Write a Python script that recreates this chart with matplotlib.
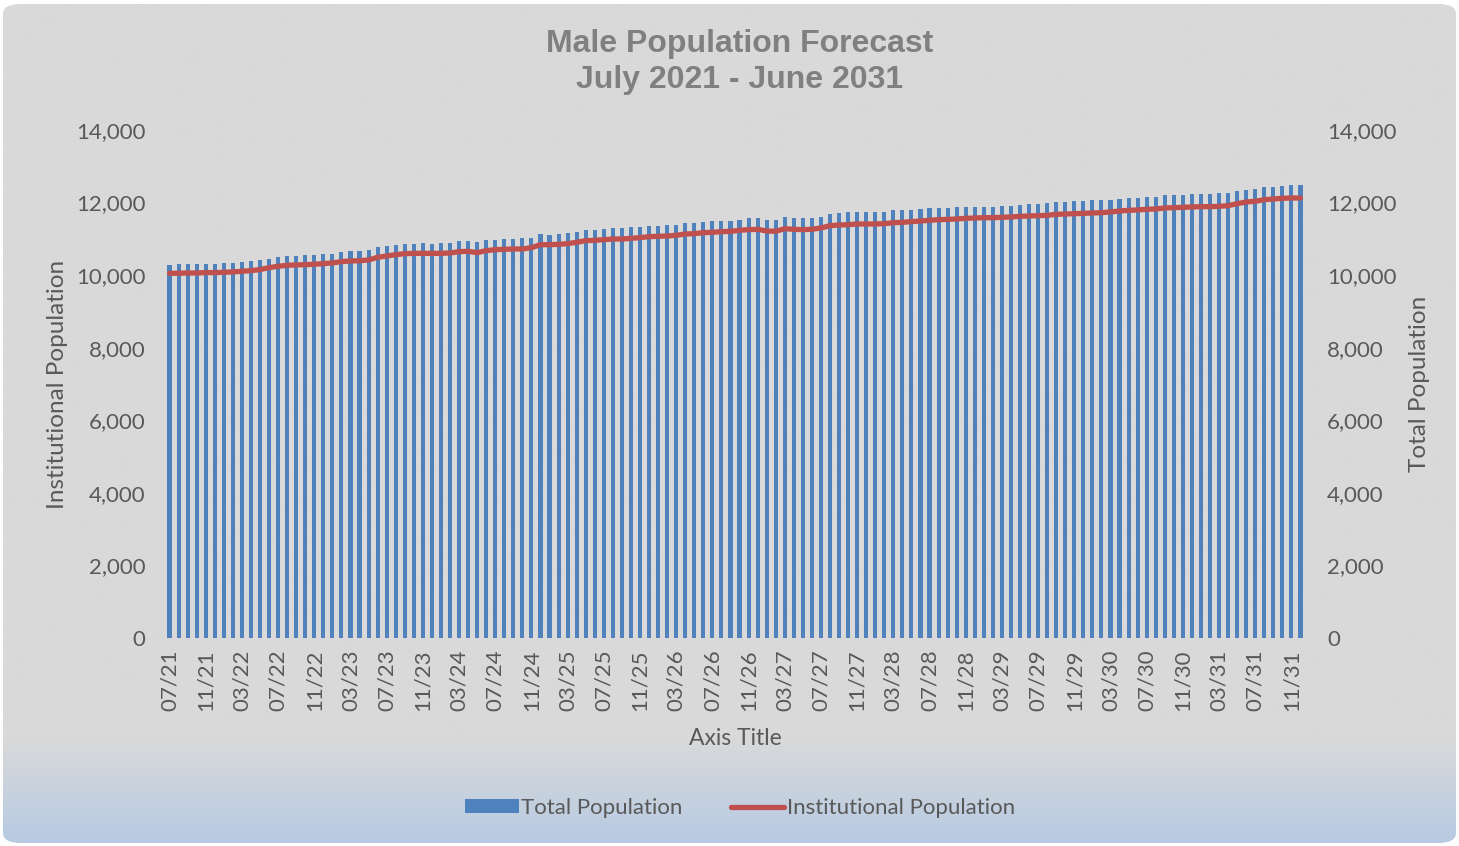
import numpy as np
import matplotlib
matplotlib.use("Agg")
import matplotlib.pyplot as plt
from matplotlib.patches import FancyBboxPatch, Patch
from matplotlib.lines import Line2D

# valeurs (mensuel, 07/21 -> 12/31)
total_pop = [10288, 10300, 10300, 10307, 10307, 10307, 10335, 10335, 10354, 10381, 10409,
             10454, 10492, 10519, 10528, 10546, 10555, 10574, 10583, 10629, 10657,
             10666, 10702, 10776, 10795, 10831, 10868, 10868, 10877, 10868, 10877, 10877,
             10933, 10941, 10905, 10969, 10978, 10996, 11005, 11015, 11015, 11125,
             11115, 11125, 11153, 11181, 11236, 11244, 11263, 11291, 11300, 11318, 11336,
             11355, 11363, 11374, 11391, 11429, 11429, 11473, 11484, 11501, 11501,
             11529, 11567, 11567, 11529, 11529, 11594, 11567, 11567, 11575, 11603, 11685,
             11713, 11732, 11749, 11741, 11741, 11749, 11787, 11796, 11805, 11823,
             11842, 11851, 11860, 11869, 11887, 11878, 11887, 11887, 11915, 11915, 11943,
             11970, 11970, 11980, 12016, 12025, 12035, 12053, 12062, 12062, 12071,
             12099, 12118, 12135, 12154, 12163, 12201, 12201, 12209, 12229, 12237, 12237,
             12256, 12273, 12328, 12356, 12366, 12421, 12421, 12457, 12476, 12476]

inst_pop = [10051, 10051, 10060, 10060, 10070, 10070, 10079, 10088, 10106, 10125, 10152,
            10207, 10244, 10272, 10281, 10290, 10299, 10318, 10336, 10373, 10391,
            10398, 10418, 10492, 10528, 10564, 10592, 10601, 10601, 10601, 10601, 10611,
            10647, 10656, 10620, 10675, 10702, 10711, 10721, 10721, 10757, 10840,
            10840, 10849, 10868, 10905, 10950, 10960, 10978, 10996, 10996, 11015, 11033,
            11061, 11070, 11079, 11098, 11134, 11143, 11171, 11180, 11198, 11207,
            11236, 11254, 11263, 11217, 11208, 11281, 11263, 11254, 11263, 11300, 11363,
            11382, 11391, 11410, 11410, 11410, 11419, 11446, 11455, 11474, 11492,
            11511, 11529, 11538, 11547, 11566, 11575, 11584, 11584, 11593, 11603, 11621,
            11630, 11639, 11648, 11676, 11685, 11694, 11703, 11713, 11722, 11741,
            11768, 11787, 11796, 11815, 11824, 11851, 11860, 11869, 11879, 11888, 11888,
            11897, 11915, 11970, 12016, 12035, 12080, 12099, 12117, 12127, 12127]

tick_labels = ['07/21', '11/21', '03/22', '07/22', '11/22', '03/23', '07/23', '11/23',
               '03/24', '07/24', '11/24', '03/25', '07/25', '11/25', '03/26', '07/26',
               '11/26', '03/27', '07/27', '11/27', '03/28', '07/28', '11/28', '03/29',
               '07/29', '11/29', '03/30', '07/30', '11/30', '03/31', '07/31', '11/31']

txt = '#595959'
bleu = '#4F81BD'
rouge = '#C0504D'
plt.rcParams['font.family'] = ['Lato', 'DejaVu Sans']

fig = plt.figure(figsize=(14.59, 8.46), dpi=100)
fig.patch.set_facecolor('white')

# fond gris avec degrade bleu en bas
bg = fig.add_axes([0, 0, 1, 1], zorder=-5)
bg.set_xlim(0, 1)
bg.set_ylim(0, 1)
bg.axis('off')
yy = np.linspace(0, 1, 400)
c_top = np.array([0xD9, 0xD9, 0xD9]) / 255
c_bot = np.array([0xB6, 0xCA, 0xE3]) / 255
t = np.clip((0.125 - yy) / 0.125, 0, 1)[:, None]
grad = c_top * (1 - t) + c_bot * t
img = bg.imshow(grad[:, None, :], extent=[0, 1, 0, 1], origin='lower', aspect='auto')
box = FancyBboxPatch((3 / 1459, 3 / 846), 1453 / 1459, 839 / 846,
                     boxstyle='round,pad=0,rounding_size=0.012',
                     transform=bg.transAxes, facecolor='none', edgecolor='none')
bg.add_patch(box)
img.set_clip_path(box)

ax = fig.add_axes([165 / 1459, 1 - 638 / 846, 1140 / 1459, 508 / 846])
ax.set_facecolor('none')
x = np.arange(len(total_pop))
ax.bar(x, total_pop, width=0.45, color=bleu, zorder=2)
ax.set_xlim(-0.5, len(total_pop) - 0.5)
ax.set_ylim(0, 14000)
ax.set_yticks(np.arange(0, 14001, 2000))
ax.set_yticklabels(['{:,}'.format(v) for v in range(0, 14001, 2000)])
ax.set_xticks(x[::4])
ax.set_xticklabels(tick_labels, rotation=90)
ax.tick_params(axis='both', length=0, labelsize=16, labelcolor=txt)
ax.tick_params(axis='y', pad=14)
ax.tick_params(axis='x', pad=8)
for s in ax.spines.values():
    s.set_visible(False)
ax.set_ylabel('Institutional Population', fontsize=17.5, color=txt, labelpad=6)
ax.set_xlabel('Axis Title', fontsize=16.5, color=txt, labelpad=12)

ax2 = ax.twinx()
ax2.plot(x, inst_pop, color=rouge, lw=3.8, solid_capstyle='round',
         solid_joinstyle='round', zorder=3)
ax2.set_ylim(0, 14000)
ax2.set_yticks(np.arange(0, 14001, 2000))
ax2.set_yticklabels(['{:,}'.format(v) for v in range(0, 14001, 2000)])
ax2.tick_params(axis='y', length=0, labelsize=16, labelcolor=txt, pad=16)
for s in ax2.spines.values():
    s.set_visible(False)
ax2.set_ylabel('Total Population', fontsize=17.5, color=txt, rotation=90, labelpad=9)
ax2.yaxis.set_label_position('right')

fig.text(740 / 1459, 1 - 62 / 846, 'Male Population Forecast\nJuly 2021 - June 2031',
         ha='center', va='center', fontsize=23, fontweight='bold', color='#808080',
         family=['Liberation Sans', 'DejaVu Sans'], linespacing=1.28)

handles = [Patch(facecolor=bleu, label='Total Population'),
           Line2D([0], [0], color=rouge, lw=3.8, solid_capstyle='round',
                  label='Institutional Population')]
leg = fig.legend(handles=handles, loc='center', bbox_to_anchor=(740 / 1459, 1 - 808 / 846),
                 ncol=2, frameon=False, fontsize=16, handlelength=2.4, handleheight=0.6,
                 handletextpad=0.1, columnspacing=2.2)
for tx in leg.get_texts():
    tx.set_color(txt)

fig.savefig('out.png', dpi=100)
